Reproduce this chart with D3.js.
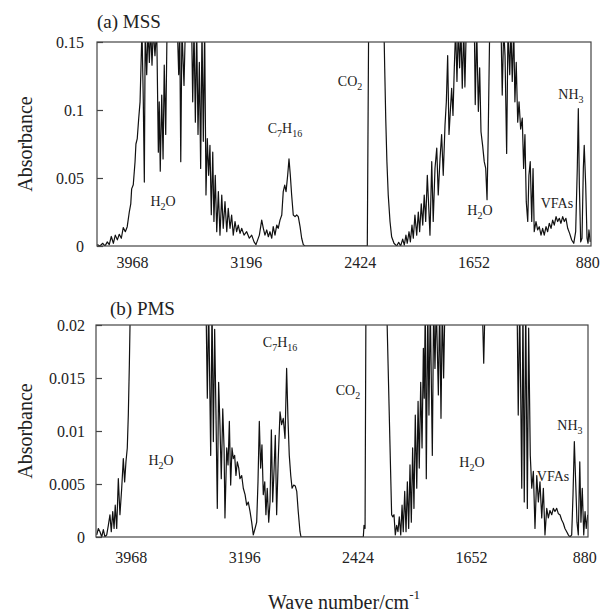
<!DOCTYPE html>
<html>
<head>
<meta charset="utf-8">
<script src="https://cdn.jsdelivr.net/npm/d3@7"></script>
<style>
body { margin: 0; background: #fff; }
text { font-family: "Liberation Serif", "Times New Roman", serif; fill: #222; }
.frame { fill: none; stroke: #444; stroke-width: 1.2; }
.trace { fill: none; stroke: #111; stroke-width: 1.2; stroke-linejoin: round; }
.tick line { stroke: #444; stroke-width: 1.2; }
</style>
</head>
<body>
<svg id="chart" width="601" height="612"></svg>
<script>
// wave number ticks shared by both panels
const waveTicks = [3968, 3196, 2424, 1652, 880];
const mssTicks = [0, 0.05, 0.1, 0.15];
const pmsTicks = [0, 0.005, 0.01, 0.015, 0.02];

// (a) MSS spectrum, [wave number, absorbance]; values above 0.15 run off the top
const mss = [
[4203,0.001],[4185,0],[4166,0.002],[4151,0],[4135,0.003],[4122,0.001],[4108,0.007],[4094,0.002],[4081,0.008],[4067,0.0045],
[4054,0.0086],[4040,0.0057],[4027,0.0135],[4013,0.0105],[4000,0.0142],[3986,0.025],[3976,0.031],[3970,0.042],[3959,0.045],[3947,0.062],
[3941,0.075],[3932,0.079],[3922,0.094],[3913,0.106],[3907,0.131],[3900,0.16],[3891,0.106],[3884,0.047],[3878,0.16],[3868,0.126],
[3859,0.16],[3850,0.135],[3841,0.16],[3832,0.133],[3823,0.16],[3812,0.14],[3800,0.16],[3789,0.069],[3783,0.106],[3776,0.055],
[3766,0.111],[3757,0.064],[3749,0.133],[3739,0.082],[3730,0.16],[3660,0.16],[3651,0.126],[3644,0.16],[3637,0.062],[3629,0.16],
[3615,0.118],[3606,0.16],[3563,0.16],[3556,0.106],[3547,0.16],[3538,0.091],[3529,0.16],[3520,0.082],[3511,0.135],[3502,0.057],
[3493,0.16],[3484,0.077],[3475,0.16],[3466,0.0375],[3457,0.079],[3448,0.052],[3439,0.074],[3430,0.023],[3420,0.069],[3412,0.018],
[3403,0.052],[3393,0.0105],[3382,0.040],[3371,0.008],[3359,0.0375],[3349,0.013],[3337,0.0326],[3325,0.0105],[3315,0.0277],[3303,0.013],
[3292,0.0228],[3281,0.008],[3269,0.018],[3258,0.0105],[3247,0.0154],[3235,0.0093],[3224,0.013],[3208,0.008],[3190,0.0105],[3172,0.0057],
[3156,0.008],[3140,0.003],[3127,0.001],[3104,0.008],[3088,0.019],[3077,0.013],[3066,0.008],[3054,0.0118],[3043,0.0068],[3032,0.0105],
[3020,0.0057],[3010,0.0142],[2998,0.008],[2986,0.0154],[2976,0.013],[2964,0.019],[2952,0.0228],[2942,0.040],[2932,0.0448],[2923,0.040],
[2912,0.052],[2903,0.064],[2894,0.052],[2885,0.0375],[2874,0.0228],[2862,0.0216],[2851,0.0228],[2840,0.0216],[2828,0.0142],[2817,0.0057],
[2806,0.001],[2795,0],[2372,0],[2363,0.16],[2259,0.16],[2254,0.131],[2247,0.094],[2239,0.062],[2230,0.0375],[2218,0.018],
[2207,0.0068],[2191,0.002],[2173,0],[2159,0.0027],[2146,0],[2132,0.0051],[2121,0.0007],[2110,0.008],[2101,0.002],[2089,0.0105],
[2080,0.003],[2069,0.0154],[2060,0.0057],[2049,0.0228],[2037,0.008],[2026,0.025],[2017,0.0105],[2006,0.031],[1996,0.0154],[1986,0.0375],
[1976,0.018],[1965,0.052],[1947,0.008],[1935,0.062],[1925,0.018],[1913,0.057],[1901,0.072],[1891,0.0375],[1879,0.064],[1868,0.082],
[1857,0.052],[1845,0.089],[1836,0.106],[1827,0.140],[1818,0.082],[1809,0.099],[1800,0.116],[1791,0.096],[1782,0.131],[1773,0.16],
[1764,0.121],[1755,0.16],[1746,0.131],[1737,0.16],[1728,0.116],[1718,0.16],[1710,0.117],[1701,0.16],[1646,0.16],[1640,0.104],
[1630,0.16],[1619,0.099],[1610,0.131],[1601,0.084],[1590,0.074],[1579,0.062],[1569,0.057],[1560,0.034],[1552,0.082],[1542,0.16],
[1465,0.16],[1457,0.111],[1447,0.16],[1438,0.140],[1427,0.068],[1418,0.16],[1406,0.126],[1398,0.16],[1389,0.121],[1379,0.16],
[1371,0.106],[1362,0.135],[1352,0.091],[1343,0.106],[1332,0.086],[1321,0.094],[1312,0.057],[1303,0.082],[1294,0.0326],[1284,0.018],
[1276,0.052],[1267,0.062],[1257,0.018],[1248,0.057],[1240,0.0105],[1228,0.018],[1217,0.0118],[1206,0.0142],[1194,0.008],[1183,0.013],
[1172,0.008],[1160,0.0142],[1149,0.0105],[1138,0.0167],[1126,0.013],[1115,0.019],[1104,0.0154],[1092,0.0216],[1081,0.018],[1070,0.0204],
[1059,0.0167],[1047,0.0216],[1036,0.018],[1025,0.0204],[1013,0.013],[1000,0.0093],[986,0.0044],[972,0.002],[959,0.0105],[948,0.057],
[941,0.101],[934,0.0448],[925,0.003],[916,0.0057],[907,0.057],[901,0.074],[891,0.0448],[882,0.0057],[875,0.002],[869,0.0118],
[860,0.003]
];

// (b) PMS spectrum; values above 0.02 run off the top
const pms = [
[4200,0.0002],[4189,0.0008],[4178,0.0005],[4166,0],[4155,0.0007],[4144,0],[4132,0.0002],[4121,0.0011],[4110,0.0021],[4101,0.0005],
[4091,0.0024],[4082,0.0008],[4074,0.003],[4064,0.0008],[4053,0.0055],[4042,0.0021],[4030,0.0046],[4019,0.0074],[4010,0.0052],[4001,0.0071],
[3992,0.0084],[3985,0.0115],[3978,0.0162],[3971,0.022],[3456,0.022],[3447,0.0131],[3438,0.022],[3424,0.0077],[3415,0.022],[3406,0.009],
[3397,0.0196],[3388,0.0115],[3379,0.0027],[3370,0.0146],[3361,0.0106],[3352,0.0055],[3342,0.0121],[3333,0.0084],[3327,0.0018],[3315,0.0084],
[3306,0.0068],[3297,0.0109],[3288,0.0049],[3279,0.0084],[3270,0.0074],[3261,0.0077],[3252,0.0058],[3243,0.0071],[3233,0.0065],[3225,0.0055],
[3213,0.0058],[3202,0.0046],[3190,0.004],[3179,0.003],[3168,0.0033],[3156,0.0024],[3145,0.0014],[3134,0.0002],[3122,0.0008],[3111,0.0014],
[3102,0.0052],[3093,0.0109],[3084,0.0065],[3075,0.0087],[3066,0.004],[3056,0.0052],[3048,0.0021],[3039,0.0046],[3029,0.0014],[3020,0.0033],
[3011,0.0101],[3002,0.0033],[2993,0.0062],[2984,0.0096],[2975,0.0021],[2964,0.0074],[2952,0.0118],[2941,0.0106],[2930,0.0112],[2918,0.0093],
[2907,0.0159],[2898,0.0112],[2889,0.0077],[2879,0.0058],[2870,0.0046],[2859,0.0049],[2848,0.0048],[2838,0.0043],[2828,0.0024],[2816,0.0005],
[2809,0],[2385,0],[2380,0.0011],[2373,0.0008],[2367,0.022],[2226,0.022],[2192,0.0021],[2185,0.0019],[2176,0.0021],[2167,0.0002],
[2158,0.0011],[2149,0.0005],[2140,0.0019],[2130,0.0002],[2121,0.003],[2113,0.0005],[2103,0.0043],[2094,0.0005],[2085,0.0052],[2076,0.0008],
[2067,0.0068],[2058,0.0014],[2049,0.0084],[2040,0.0027],[2031,0.0115],[2021,0.0046],[2012,0.0128],[2004,0.0065],[1994,0.0146],[1985,0.0084],
[1976,0.0178],[1970,0.0131],[1963,0.022],[1956,0.0055],[1946,0.022],[1938,0.0115],[1929,0.022],[1915,0.0077],[1906,0.022],[1897,0.0159],
[1888,0.022],[1874,0.0134],[1865,0.022],[1856,0.0112],[1847,0.022],[1838,0.015],[1829,0.022],[1575,0.022],[1565,0.0164],[1556,0.022],
[1338,0.022],[1330,0.0115],[1320,0.022],[1306,0.0046],[1298,0.022],[1289,0.0033],[1279,0.022],[1268,0.0027],[1259,0.0197],[1248,0.0077],
[1238,0.0046],[1227,0.0062],[1216,0.0008],[1204,0.0058],[1193,0.0033],[1182,0.0052],[1170,0.0018],[1159,0.0046],[1148,0.0002],[1136,0.0027],
[1125,0.0018],[1114,0.0025],[1102,0.0021],[1091,0.0027],[1080,0.0024],[1068,0.0027],[1057,0.0022],[1046,0.0021],[1034,0.0016],[1023,0.0013],
[1012,0.0008],[1000,0.0005],[989,0.0002],[978,0],[966,0.0002],[957,0.004],[948,0.009],[939,0.0052],[930,0.0014],[921,0.0002],
[911,0.0071],[903,0.0014],[894,0.0046],[884,0.0002],[875,0.0024],[867,0.0008],[857,0.0021]
];

// band labels, placed at [wave number, absorbance]
const mssBands = [
  {text: "H2O", wave: 3757, abs: 0.0294},
  {text: "C7H16", wave: 2930, abs: 0.083},
  {text: "CO2", wave: 2489, abs: 0.1176},
  {text: "H2O", wave: 1608, abs: 0.0228},
  {text: "VFAs", wave: 1086, abs: 0.0279},
  {text: "NH3", wave: 991, abs: 0.108}
];
const pmsBands = [
  {text: "H2O", wave: 3762, abs: 0.0068},
  {text: "C7H16", wave: 2952, abs: 0.0179},
  {text: "CO2", wave: 2489, abs: 0.0134},
  {text: "H2O", wave: 1645, abs: 0.0066},
  {text: "VFAs", wave: 1093, abs: 0.0053},
  {text: "NH3", wave: 978, abs: 0.0101}
];

const svg = d3.select("#chart");

const panels = [
  {id: "a", title: "(a) MSS", titleX: 97, titleY: 28, data: mss, bands: mssBands, ticks: mssTicks, yMax: 0.15,
   left: 97, right: 591, top: 42, bottom: 246, yPad: 13, xPad: 11},
  {id: "b", title: "(b) PMS", titleX: 110, titleY: 315, data: pms, bands: pmsBands, ticks: pmsTicks, yMax: 0.02,
   left: 96, right: 588, top: 325, bottom: 537, yPad: 11, xPad: 15}
];

panels.forEach(drawPanel);

function drawPanel(p) {
  const x = d3.scaleLinear().domain([4205, 855]).range([p.left, p.right]);
  const y = d3.scaleLinear().domain([0, p.yMax]).range([p.bottom, p.top]);

  svg.append("clipPath")
      .attr("id", "clip-" + p.id)
    .append("rect")
      .attr("x", p.left)
      .attr("y", p.top)
      .attr("width", p.right - p.left)
      .attr("height", p.bottom - p.top);

  const line = d3.line()
      .x(d => x(d[0]))
      .y(d => y(d[1]));

  svg.append("path")
      .datum(p.data)
      .attr("class", "trace")
      .attr("clip-path", "url(#clip-" + p.id + ")")
      .attr("d", line);

  svg.append("rect")
      .attr("class", "frame")
      .attr("x", p.left)
      .attr("y", p.top)
      .attr("width", p.right - p.left)
      .attr("height", p.bottom - p.top);

  const yAxis = svg.append("g")
      .attr("transform", "translate(" + p.left + ",0)")
      .call(d3.axisLeft(y)
        .tickValues(p.ticks)
        .tickSizeInner(-6)
        .tickSizeOuter(0)
        .tickPadding(p.yPad)
        .tickFormat(d => String(d)));
  yAxis.select(".domain").remove();
  yAxis.selectAll("text")
      .attr("font-size", 16)
      .attr("font-family", null)
      .attr("fill", "#222");

  const xAxis = svg.append("g")
      .attr("transform", "translate(0," + p.bottom + ")")
      .call(d3.axisBottom(x)
        .tickValues(waveTicks)
        .tickSize(0)
        .tickPadding(p.xPad)
        .tickFormat(d3.format("d")));
  xAxis.select(".domain").remove();
  xAxis.selectAll("text")
      .attr("font-size", 16)
      .attr("font-family", null)
      .attr("fill", "#222");

  svg.append("text")
      .attr("x", p.titleX)
      .attr("y", p.titleY)
      .attr("font-size", 19)
      .text(p.title);

  svg.append("text")
      .attr("transform", "translate(32," + ((p.top + p.bottom) / 2) + ") rotate(-90)")
      .attr("text-anchor", "middle")
      .attr("font-size", 20)
      .text("Absorbance");

  p.bands.forEach(b => {
    const t = svg.append("text")
        .attr("x", x(b.wave))
        .attr("y", y(b.abs))
        .attr("text-anchor", "middle")
        .attr("font-size", 14)
        .attr("fill", "#333");
    let down = false;
    b.text.match(/\d+|\D+/g).forEach(part => {
      const ts = t.append("tspan").text(part);
      if (/\d/.test(part)) {
        ts.attr("font-size", 10).attr("dy", 4);
        down = true;
      } else if (down) {
        ts.attr("dy", -4);
        down = false;
      }
    });
  });
}

// shared x axis title
const xt = svg.append("text")
    .attr("x", 344)
    .attr("y", 609)
    .attr("text-anchor", "middle")
    .attr("font-size", 20);
xt.append("tspan").text("Wave number/cm");
xt.append("tspan").attr("font-size", 13).attr("dy", -10).text("-1");
</script>
</body>
</html>
